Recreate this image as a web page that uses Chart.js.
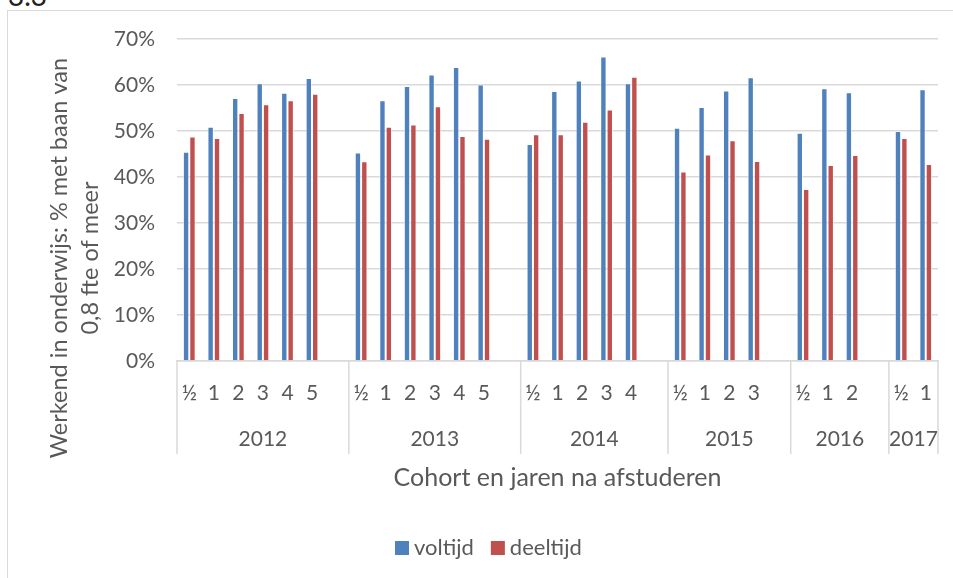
<!DOCTYPE html>
<html>
<head>
<meta charset="utf-8">
<script src="https://cdn.jsdelivr.net/npm/chart.js@4.4.0/dist/chart.umd.min.js"></script>
<style>
  html, body { margin: 0; padding: 0; background: #fff; overflow: hidden; }
  #wrap { position: relative; width: 953px; height: 578px; overflow: hidden; }
  #frame { position: absolute; left: 7px; top: 10px; width: 1100px; height: 800px; border: 1.5px solid #d9d9d9; }
  #kop { position: absolute; left: 8px; top: -22px; font: 28px Lato, sans-serif; color: #222; }
  canvas { position: absolute; left: 0; top: 0; }
</style>
</head>
<body>
<div id="wrap">
  <div id="kop">3.3</div>
  <div id="frame"></div>
  <canvas id="chart" width="953" height="578"></canvas>
</div>
<script>
// ==================== DATA ====================
const cohorts = ['2012', '2013', '2014', '2015', '2016', '2017'];
const jarenNa = [
  ['½', '1', '2', '3', '4', '5'],
  ['½', '1', '2', '3', '4', '5'],
  ['½', '1', '2', '3', '4'],
  ['½', '1', '2', '3'],
  ['½', '1', '2'],
  ['½', '1']
];
const voltijd = [
  [45.5, 50.9, 57.2, 60.4, 58.3, 61.5],
  [45.3, 56.7, 59.8, 62.3, 63.9, 60.1],
  [47.2, 58.7, 61.0, 66.2, 60.4],
  [50.7, 55.2, 58.8, 61.7],
  [49.6, 59.3, 58.4],
  [50.0, 59.1]
];
const deeltijd = [
  [48.8, 48.5, 53.9, 55.8, 56.7, 58.1],
  [43.4, 50.9, 51.4, 55.4, 48.9, 48.3],
  [49.3, 49.3, 52.0, 54.7, 61.8],
  [41.2, 44.9, 48.0, 43.5],
  [37.4, 42.6, 44.8],
  [48.5, 42.8]
];
const yMax = 70;
const yStep = 10;
const yTitle = ['Werkend in onderwijs: % met baan van', '0,8 fte of meer'];
const xTitle = 'Cohort en jaren na afstuderen';
const seriesNames = ['voltijd', 'deeltijd'];
const seriesColors = ['#4F81BD', '#C0504D'];

// flatten cohorts into one category axis, with an empty slot after each cohort
const labels = [];
const volData = [];
const deelData = [];
const groupStart = [];
cohorts.forEach((c, g) => {
  groupStart.push(labels.length);
  jarenNa[g].forEach((j, k) => {
    labels.push(j);
    volData.push(voltijd[g][k]);
    deelData.push(deeltijd[g][k]);
  });
  if (g < cohorts.length - 1) {
    labels.push('');
    volData.push(null);
    deelData.push(null);
  }
});
groupStart.push(labels.length);

const FAMILY = 'Lato, "Open Sans", sans-serif';
const FONT = '21px ' + FAMILY;
const TEXT = '#595959';
const GRID = '#d9d9d9';

// draws the two-level category axis, axis titles and legend
const excelDecor = {
  id: 'excelDecor',
  afterDraw(chart) {
    const ctx = chart.ctx;
    const x = chart.scales.x;
    const area = chart.chartArea;
    const half = (x.getPixelForValue(1) - x.getPixelForValue(0)) / 2;
    ctx.save();

    // group separators
    ctx.strokeStyle = GRID;
    ctx.lineWidth = 1.5;
    groupStart.forEach(i => {
      const px = x.getPixelForValue(i) - half;
      ctx.beginPath();
      ctx.moveTo(px, area.bottom);
      ctx.lineTo(px, area.bottom + 93);
      ctx.stroke();
    });

    ctx.fillStyle = TEXT;
    ctx.font = FONT;
    ctx.textAlign = 'center';
    ctx.textBaseline = 'middle';

    // sub labels
    labels.forEach((l, i) => {
      if (l) ctx.fillText(l, x.getPixelForValue(i), area.bottom + 32);
    });
    // cohort labels
    cohorts.forEach((c, g) => {
      const a = x.getPixelForValue(groupStart[g]) - half;
      const b = x.getPixelForValue(groupStart[g + 1]) - half;
      ctx.fillText(c, (a + b) / 2, area.bottom + 78);
    });

    // x title
    ctx.font = '25px ' + FAMILY;
    ctx.fillText(xTitle, (area.left + area.right) / 2, 478);

    // y title
    ctx.font = '23.5px ' + FAMILY;
    const yCenter = 258;
    [59, 90].forEach((tx, n) => {
      ctx.save();
      ctx.translate(tx, yCenter);
      ctx.rotate(-Math.PI / 2);
      ctx.fillText(yTitle[n], 0, 0);
      ctx.restore();
    });

    // legend
    ctx.font = '22px ' + FAMILY;
    ctx.textAlign = 'left';
    let lx = 395;
    seriesNames.forEach((name, n) => {
      ctx.fillStyle = seriesColors[n];
      ctx.fillRect(lx, 541, 14, 14);
      ctx.fillStyle = TEXT;
      ctx.fillText(name, lx + 19, 548);
      lx += 19 + ctx.measureText(name).width + 17;
    });

    ctx.restore();
  }
};

function renderChart() {
  new Chart(document.getElementById('chart'), {
    type: 'bar',
    data: {
      labels,
      datasets: [
        {
          label: seriesNames[0],
          data: volData,
          backgroundColor: seriesColors[0],
          borderColor: 'rgba(255,255,255,0.55)',
          borderWidth: 1
        },
        {
          label: seriesNames[1],
          data: deelData,
          backgroundColor: seriesColors[1],
          borderColor: 'rgba(255,255,255,0.55)',
          borderWidth: 1
        }
      ]
    },
    options: {
      responsive: false,
      animation: false,
      events: [],
      categoryPercentage: 0.52,
      barPercentage: 1,
      layout: { padding: { top: 39, right: 15, bottom: 0, left: 0 } },
      plugins: {
        legend: { display: false },
        tooltip: { enabled: false }
      },
      scales: {
        x: {
          grid: { display: false },
          border: { display: true, color: GRID, width: 1.5 },
          ticks: { display: false },
          afterFit: s => { s.height = 217; }
        },
        y: {
          min: 0,
          max: yMax,
          ticks: {
            stepSize: yStep,
            padding: 22,
            color: TEXT,
            font: { family: FAMILY, size: 21 },
            callback: v => v + '%'
          },
          grid: { color: GRID, lineWidth: 1.5, drawTicks: false },
          border: { display: false },
          afterFit: s => { s.width = 177; }
        }
      }
    },
    plugins: [excelDecor]
  });
}

if (document.fonts && document.fonts.load) {
  document.fonts.load(FONT).then(renderChart, renderChart);
} else {
  renderChart();
}
</script>
</body>
</html>
